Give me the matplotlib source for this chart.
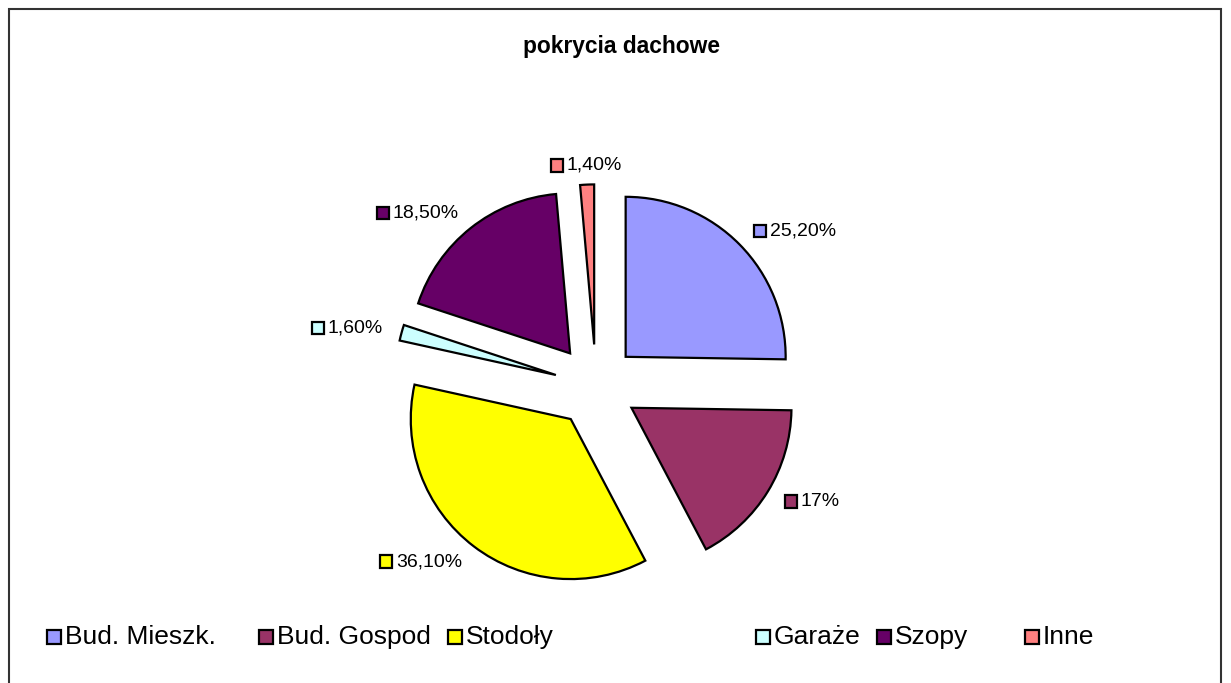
import matplotlib
matplotlib.use('Agg')
import matplotlib.pyplot as plt
import numpy as np
from matplotlib.patches import Rectangle
from matplotlib.offsetbox import AnnotationBbox, DrawingArea, TextArea, HPacker

plt.rcParams['font.family'] = ['Liberation Sans', 'DejaVu Sans']

# dane
kategorie = ['Bud. Mieszk.', 'Bud. Gospod', 'Stodoły', 'Garaże', 'Szopy', 'Inne']
wartosci = [25.2, 17.0, 36.1, 1.6, 18.5, 1.4]
etykiety = ['25,20%', '17%', '36,10%', '1,60%', '18,50%', '1,40%']
kolory = ['#9999FF', '#993366', '#FFFF00', '#CCFFFF', '#660066', '#FF8080']

# pozycje legendy (px od lewej krawedzi)
legenda_x = [46, 258, 447, 755, 876, 1024]

W, H = 1231, 683
fig = plt.figure(figsize=(W / 100, H / 100), dpi=100)
fig.patch.set_facecolor('white')

# ramka wykresu
fig.add_artist(Rectangle((9 / W, -0.05), 1212 / W, (H - 9) / H + 0.05,
                         transform=fig.transFigure, fill=False,
                         edgecolor='#333333', linewidth=1.5))

fig.text(0.505, 1 - 46 / H, 'pokrycia dachowe', ha='center', va='center',
         fontsize=16.4, fontweight='bold')

# os kolowa: srodek (596, 386) px, promien 160 px
cx, cy, half = 596, 386, 200
ax = fig.add_axes([(cx - half) / W, (H - cy - half) / H, 2 * half / W, 2 * half / H])
ax.set_xlim(-1.25, 1.25)
ax.set_ylim(-1.25, 1.25)
ax.axis('off')

wedges, _ = ax.pie(wartosci, colors=kolory, startangle=90, counterclock=False,
                   explode=[0.26] * len(wartosci), radius=1,
                   wedgeprops=dict(edgecolor='black', linewidth=1.6))


def kwadrat_z_tekstem(kolor, tekst, rozmiar, bok):
    da = DrawingArea(bok, bok, 0, 0)
    da.add_artist(Rectangle((0.6, 0.6), bok - 1.2, bok - 1.2, facecolor=kolor,
                            edgecolor='black', linewidth=1.6))
    ta = TextArea(tekst, textprops=dict(fontsize=rozmiar, color='black'))
    return HPacker(children=[da, ta], align='center', pad=0, sep=2)


for w, et, kol in zip(wedges, etykiety, kolory):
    kat = np.deg2rad((w.theta1 + w.theta2) / 2)
    x, y = 1.38 * np.cos(kat), 1.38 * np.sin(kat)
    if x > 0.2:
        wyr = (0, 0.5)
    elif x < -0.2:
        wyr = (1, 0.5)
    else:
        wyr = (0.5, 0.5)
    ab = AnnotationBbox(kwadrat_z_tekstem(kol, et, 14, 10), (x, y), xycoords='data',
                        box_alignment=wyr, frameon=False, pad=0,
                        annotation_clip=False)
    ax.add_artist(ab)

# legenda
for lx, kat_nazwa, kol in zip(legenda_x, kategorie, kolory):
    ab = AnnotationBbox(kwadrat_z_tekstem(kol, kat_nazwa, 19, 11.5), (lx / W, 1 - 637 / H),
                        xycoords='figure fraction', box_alignment=(0, 0.5),
                        frameon=False, pad=0, annotation_clip=False)
    fig.add_artist(ab)

fig.savefig('out.png', dpi=100)
